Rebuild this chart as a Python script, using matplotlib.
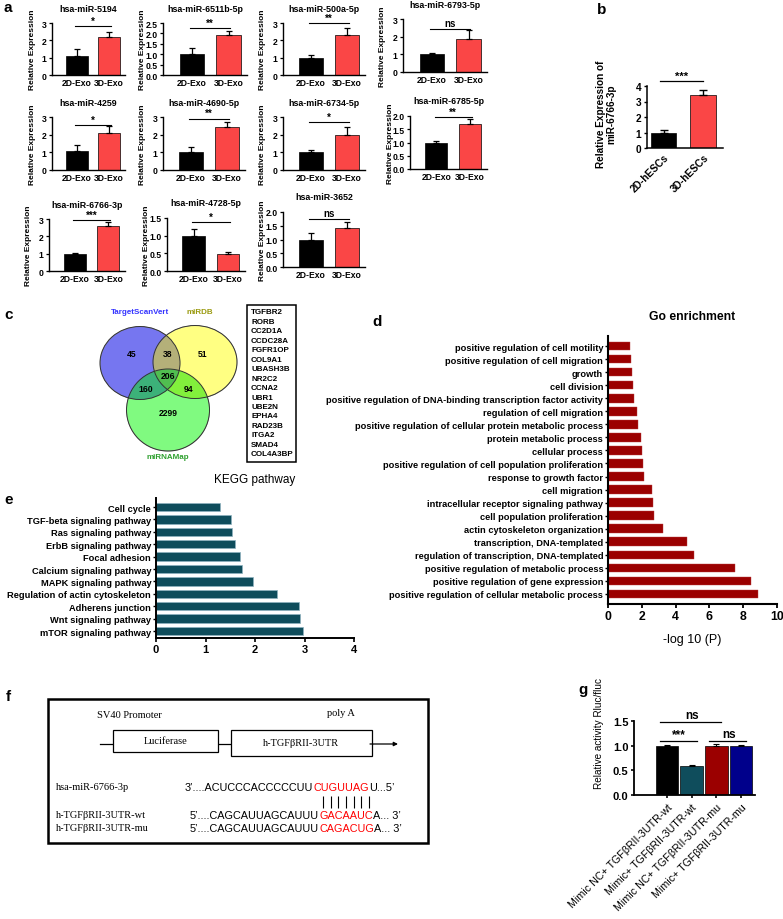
import numpy as np
import matplotlib.pyplot as plt
from matplotlib.patches import Rectangle, Ellipse

plt.rcParams['font.family'] = ['Liberation Sans', 'DejaVu Sans']
plt.rcParams['font.weight'] = 'bold'
plt.rcParams['axes.linewidth'] = 1.0

W, H = 783, 920
RED = '#fa4646'
TEAL = '#0f4d5c'
DARKRED = '#9b0000'

# ---- panel a data: qPCR of exosomal miRNAs
mirna_names = ['hsa-miR-5194', 'hsa-miR-6511b-5p', 'hsa-miR-500a-5p', 'hsa-miR-6793-5p',
               'hsa-miR-4259', 'hsa-miR-4690-5p', 'hsa-miR-6734-5p', 'hsa-miR-6785-5p',
               'hsa-miR-6766-3p', 'hsa-miR-4728-5p', 'hsa-miR-3652']
exo_groups = ['2D-Exo', '3D-Exo']
exo_mean_2d = [1.10, 1.00, 1.00, 1.00, 1.10, 1.00, 1.00, 0.98, 1.00, 1.00, 1.00]
exo_err_2d = [0.42, 0.30, 0.14, 0.10, 0.30, 0.33, 0.15, 0.06, 0.05, 0.20, 0.22]
exo_mean_3d = [2.20, 1.90, 2.28, 1.85, 2.08, 2.45, 2.00, 1.70, 2.60, 0.47, 1.42]
exo_err_3d = [0.28, 0.20, 0.45, 0.55, 0.40, 0.25, 0.45, 0.20, 0.22, 0.08, 0.22]
exo_sig = ['*', '**', '**', 'ns', '*', '**', '*', '**', '***', '*', 'ns']
exo_sig_y = [2.83, 2.25, 3.0, 2.45, 2.55, 2.9, 2.72, 1.95, 2.92, 1.38, 1.75]
exo_ymax = [3, 2.5, 3, 3, 3, 3, 3, 2.0, 3, 1.5, 2.0]
exo_ystep = [1, 0.5, 1, 1, 1, 1, 1, 0.5, 1, 0.5, 0.5]

# ---- panel b data
hesc_groups = ['2D-hESCs', '3D-hESCs']
hesc_mean = [1.0, 3.42]
hesc_err = [0.15, 0.32]

# ---- panel c data (Venn)
venn_sets = ['TargetScanVert', 'miRDB', 'miRNAMap']
venn_counts = {'100': 45, '110': 38, '010': 51, '111': 206, '101': 160, '011': 94, '001': 2299}
target_genes = ['TGFBR2', 'RORB', 'CC2D1A', 'CCDC28A', 'FGFR1OP', 'COL9A1', 'UBASH3B', 'NR2C2',
                'CCNA2', 'UBR1', 'UBE2N', 'EPHA4', 'RAD23B', 'ITGA2', 'SMAD4', 'COL4A3BP']

# ---- panel d data (GO)
go_terms = ['positive regulation of cell motility',
            'positive regulation of cell migration',
            'growth',
            'cell division',
            'positive regulation of DNA-binding transcription factor activity',
            'regulation of cell migration',
            'positive regulation of cellular protein metabolic process',
            'protein metabolic process',
            'cellular process',
            'positive regulation of cell population proliferation',
            'response to growth factor',
            'cell migration',
            'intracellular receptor signaling pathway',
            'cell population proliferation',
            'actin cytoskeleton organization',
            'transcription, DNA-templated',
            'regulation of transcription, DNA-templated',
            'positive regulation of metabolic process',
            'positive regulation of gene expression',
            'positive regulation of cellular metabolic process']
go_values = [1.29, 1.39, 1.43, 1.49, 1.54, 1.72, 1.80, 1.96, 2.04, 2.06,
             2.14, 2.59, 2.65, 2.73, 3.23, 4.67, 5.11, 7.49, 8.46, 8.85]

# ---- panel e data (KEGG)
kegg_terms = ['Cell cycle', 'TGF-beta signaling pathway', 'Ras signaling pathway',
              'ErbB signaling pathway', 'Focal adhesion', 'Calcium signaling pathway',
              'MAPK signaling pathway', 'Regulation of actin cytoskeleton',
              'Adherens junction', 'Wnt signaling pathway', 'mTOR signaling pathway']
kegg_values = [1.30, 1.51, 1.54, 1.59, 1.69, 1.73, 1.96, 2.45, 2.88, 2.90, 2.97]

# ---- panel g data (luciferase)
luc_groups = ['Mimic NC+ TGF\u03b2RII-3UTR-wt', 'Mimic+ TGF\u03b2RII-3UTR-wt',
              'Mimic NC+ TGF\u03b2RII-3UTR-mu', 'Mimic+ TGF\u03b2RII-3UTR-mu']
luc_mean = [1.0, 0.58, 1.0, 1.0]
luc_err = [0.01, 0.02, 0.03, 0.015]
luc_colors = ['black', TEAL, DARKRED, '#00008b']

fig = plt.figure(figsize=(W / 100, H / 100), dpi=100)

# overlay axes in pixel coordinates for texts, venn and schematic
ov = fig.add_axes([0, 0, 1, 1])
ov.set_xlim(0, W)
ov.set_ylim(H, 0)
ov.axis('off')


def add_ax(l, r, t, b):
    ax = fig.add_axes([l / W, 1 - b / H, (r - l) / W, (b - t) / H])
    ax.set_facecolor('none')
    return ax


def style_ax(ax, lw=1.0):
    for s in ['top', 'right']:
        ax.spines[s].set_visible(False)
    for s in ['left', 'bottom']:
        ax.spines[s].set_linewidth(lw)
    ax.tick_params(width=lw * 0.9, length=2.5, pad=1.5)


# panel letters
for letter, (x, y) in zip('abcdefg', [(4, 8), (597, 10), (4, 315), (372, 322),
                                      (4, 500), (6, 697), (578, 690)]):
    ov.text(x, y, letter, fontsize=11, fontweight='bold', va='center', ha='left')

# ---------------- panel a
exo_rects = [(52, 125, 24, 76), (163, 247, 24, 76), (283, 365, 24, 76), (403, 487, 20, 73),
             (52, 125, 118, 171), (163, 245, 118, 171), (283, 365, 118, 171), (410, 487, 117, 170),
             (49, 125, 220, 272), (167, 245, 219, 272), (283, 365, 213, 268)]
for i, name in enumerate(mirna_names):
    l, r, t, b = exo_rects[i]
    ax = add_ax(l, r, t, b)
    style_ax(ax, 1.0)
    means = [exo_mean_2d[i], exo_mean_3d[i]]
    errs = [exo_err_2d[i], exo_err_3d[i]]
    ax.bar([0, 1], means, width=0.66, color=['black', RED], edgecolor='black', linewidth=0.5)
    ax.errorbar([0, 1], means, yerr=[[0, 0], errs], fmt='none', ecolor='black',
                elinewidth=0.9, capsize=2.2, capthick=0.9)
    ax.set_xlim(-0.78, 1.5)
    ax.set_ylim(0, exo_ymax[i])
    ticks = np.arange(0, exo_ymax[i] + 1e-6, exo_ystep[i])
    ax.set_yticks(ticks)
    if exo_ystep[i] < 1:
        ax.set_yticklabels(['%.1f' % v for v in ticks])
    ax.set_xticks([0, 1])
    ax.set_xticklabels(exo_groups)
    ax.tick_params(axis='both', labelsize=6.2)
    ax.tick_params(axis='x', length=0, pad=2)
    ax.plot([-0.05, 1.05], [exo_sig_y[i]] * 2, color='black', lw=0.8, clip_on=False)
    ax.text(0.5, exo_sig_y[i] + exo_ymax[i] * 0.01, exo_sig[i], ha='center', va='bottom',
            fontsize=7, fontweight='bold')
    ov.text((l + r) / 2, t - 15, name, ha='center', va='center', fontsize=6.4)
    ov.text(l - 20, (t + b) / 2, 'Relative Expression', rotation=90, ha='center',
            va='center', fontsize=6.0)

# ---------------- panel b
axb = add_ax(647, 723, 87, 149)
style_ax(axb, 1.1)
axb.bar([0, 1], hesc_mean, width=0.65, color=['black', RED], edgecolor='black', linewidth=0.5)
axb.errorbar([0, 1], hesc_mean, yerr=[[0, 0], hesc_err], fmt='none', ecolor='black',
             elinewidth=1.0, capsize=3, capthick=1.0)
axb.set_xlim(-0.42, 1.5)
axb.set_ylim(0, 4)
axb.set_yticks([0, 1, 2, 3, 4])
axb.set_xticks([0, 1])
axb.set_xticklabels(hesc_groups, rotation=45, ha='right', va='top', rotation_mode='anchor')
axb.tick_params(axis='both', labelsize=7.3)
axb.tick_params(axis='x', length=0, pad=3)
axb.plot([-0.1, 1.0], [4.3, 4.3], color='black', lw=0.9, clip_on=False)
axb.text(0.45, 4.33, '***', ha='center', va='bottom', fontsize=8)
ov.text(606, 114, 'Relative Expression of\nmiR-6766-3p', rotation=90, ha='center',
        va='center', fontsize=7.2, linespacing=1.1)

# ---------------- panel c (Venn)
ells = [((140, 364), 80, 73), ((195, 363), 84, 73), ((168, 411), 83, 82)]
xs = np.arange(90, 250, 0.25)
ys = np.arange(320, 460, 0.25)
gx, gy = np.meshgrid(xs, ys)
inside = []
for (cx, cy), w, h in ells:
    inside.append(((gx - cx) / (w / 2)) ** 2 + ((gy - cy) / (h / 2)) ** 2 <= 1)
region_colors = {'100': (118, 118, 240), '010': (255, 255, 130), '001': (128, 250, 128),
                 '110': (180, 176, 122), '101': (60, 178, 122), '011': (130, 240, 60),
                 '111': (80, 190, 80)}
img = np.zeros(gx.shape + (4,))
for key, col in region_colors.items():
    m = np.ones(gx.shape, dtype=bool)
    for k, flag in enumerate(key):
        m &= inside[k] if flag == '1' else ~inside[k]
    img[m] = [c / 255 for c in col] + [1.0]
ov.imshow(img, extent=(xs[0], xs[-1], ys[-1], ys[0]), aspect='auto', interpolation='bilinear')
for (cx, cy), w, h in ells:
    ov.add_patch(Ellipse((cx, cy), w, h, fill=False, edgecolor='#333333', lw=0.7))
count_pos = {'100': (132, 355), '110': (168, 355), '010': (203, 355), '111': (168, 377),
             '101': (146, 390), '011': (189, 390), '001': (168, 414)}
for key, n in venn_counts.items():
    ov.text(*count_pos[key], str(n), ha='center', va='center', fontsize=6.2)
ov.text(140, 313, venn_sets[0], color='#3535ff', ha='center', va='center', fontsize=5.8)
ov.text(200, 313, venn_sets[1], color='#9a9a10', ha='center', va='center', fontsize=5.8)
ov.text(168, 458, venn_sets[2], color='#2ea02e', ha='center', va='center', fontsize=5.8)
ov.add_patch(Rectangle((247, 306), 49, 157, fill=False, edgecolor='black', lw=1.1))
for k, g in enumerate(target_genes):
    ov.text(251, 313 + k * 9.45, g, ha='left', va='center', fontsize=5.8)
ov.set_xlim(0, W)
ov.set_ylim(H, 0)

# ---------------- panel d (GO)
axd = add_ax(608, 777, 337, 605)
style_ax(axd, 1.5)
yd = np.arange(len(go_terms))
axd.barh(yd, go_values, height=0.66, color=DARKRED, edgecolor='#b84040', linewidth=0.3)
axd.set_ylim(len(go_terms) - 1 + 10 / 13.05, -10 / 13.05)
axd.set_xlim(0, 10)
axd.set_xticks([0, 2, 4, 6, 8, 10])
axd.set_yticks(yd)
axd.set_yticklabels(go_terms)
axd.tick_params(axis='y', labelsize=6.7, length=2, width=1.0)
axd.tick_params(axis='x', labelsize=8.8, length=3, width=1.3)
axd.set_xlabel('-log 10 (P)', fontsize=9, labelpad=8)
ov.text(692, 317, 'Go enrichment', ha='center', va='center', fontsize=8.7)

# ---------------- panel e (KEGG)
axe = add_ax(156, 354, 499, 639)
style_ax(axe, 1.4)
ye = np.arange(len(kegg_terms))
axe.barh(ye, kegg_values, height=0.68, color=TEAL, edgecolor='#8fb3c0', linewidth=0.5)
axe.set_ylim(len(kegg_terms) - 1 + 7 / 12.4, -9 / 12.4)
axe.set_xlim(0, 4)
axe.set_xticks([0, 1, 2, 3, 4])
axe.set_yticks(ye)
axe.set_yticklabels(kegg_terms)
axe.tick_params(axis='y', labelsize=6.7, length=2, width=1.0)
axe.tick_params(axis='x', labelsize=8, length=3, width=1.2)
ov.text(255, 480, 'KEGG pathway', ha='center', va='center', fontsize=8.5, fontweight='normal')

# ---------------- panel f (reporter construct)
serif = ['Liberation Serif', 'DejaVu Serif']
ov.add_patch(Rectangle((48, 700), 380, 144, fill=False, edgecolor='black', lw=1.8))
ov.plot([100, 372], [745, 745], color='black', lw=0.9, zorder=1)
ov.annotate('', xy=(398, 745), xytext=(370, 745),
            arrowprops=dict(arrowstyle='-|>', color='black', lw=0.9, mutation_scale=6,
                            shrinkA=0, shrinkB=0))
ov.add_patch(Rectangle((113, 731), 105, 22, facecolor='white', edgecolor='black', lw=0.9, zorder=2))
ov.add_patch(Rectangle((231, 731), 141, 26, facecolor='white', edgecolor='black', lw=0.9, zorder=2))
ov.text(165.5, 742, 'Luciferase', family=serif, fontweight='normal', fontsize=7.5,
        ha='center', va='center', zorder=3)
ov.text(301.5, 744, 'h-TGF\u03b2RII-3UTR', family=serif, fontweight='normal', fontsize=7.5,
        ha='center', va='center', zorder=3)
ov.text(97, 716, 'SV40 Promoter', family=serif, fontweight='normal', fontsize=7.5,
        ha='left', va='center')
ov.text(327, 714, 'poly A', family=serif, fontweight='normal', fontsize=7.5,
        ha='left', va='center')

renderer = fig.canvas.get_renderer()


def seq_line(x, y, parts):
    spans = []
    for s, c in parts:
        t = ov.text(x, y, s, color=c, fontsize=7.8, fontweight='normal', ha='left', va='center')
        w = t.get_window_extent(renderer).width
        spans.append((x, x + w))
        x += w
    return spans


seq_rows = [('hsa-miR-6766-3p', 788, 185,
             [('3\u2019....ACUCCCACCCCCUU', 'black'), ('CUGUUAG', 'red'), ('U...5\u2019', 'black')]),
            ('h-TGF\u03b2RII-3UTR-wt', 816, 190,
             [('5\u2019....CAGCAUUAGCAUUU', 'black'), ('GACAAUC', 'red'), ('A... 3\u2019', 'black')]),
            ('h-TGF\u03b2RII-3UTR-mu', 829, 190,
             [('5\u2019....CAGCAUUAGCAUUU', 'black'), ('CAGACUG', 'red'), ('A... 3\u2019', 'black')])]
red_spans = []
for label, y, x0, parts in seq_rows:
    ov.text(56, y, label, family=serif, fontweight='normal', fontsize=7.5, ha='left', va='center')
    red_spans.append(seq_line(x0, y, parts)[1])
rx0, rx1 = red_spans[1]
step = (rx1 - rx0) / 7
ov.vlines(rx0 + step * (np.arange(7) + 0.5), 797, 809, color='black', lw=0.8)

# ---------------- panel g (luciferase)
axg = add_ax(634, 755, 722, 796)
style_ax(axg, 1.3)
xg = np.arange(len(luc_groups))
axg.bar(xg, luc_mean, width=0.92, color=luc_colors, edgecolor='black', linewidth=0.5)
axg.errorbar(xg, luc_mean, yerr=[[0] * 4, luc_err], fmt='none', ecolor='black',
             elinewidth=0.8, capsize=2.5, capthick=0.8)
axg.set_xlim(-1.34, 3.57)
axg.set_ylim(0, 1.5)
axg.set_yticks([0, 0.5, 1.0, 1.5])
axg.set_yticklabels(['0.0', '0.5', '1.0', '1.5'])
axg.set_xticks(xg)
axg.set_xticklabels(luc_groups, rotation=45, ha='right', va='top', rotation_mode='anchor',
                    fontweight='normal')
axg.tick_params(axis='y', labelsize=8)
axg.tick_params(axis='x', labelsize=7.7, length=2.5, pad=2)
axg.set_ylabel('Relative activity Rluc/fluc', fontsize=7.2, fontweight='normal')
axg.yaxis.set_label_coords(-0.25, 0.85)
for x1, x2, yb, s in [(0, 1, 1.10, '***'), (0, 2, 1.48, 'ns'), (2, 3, 1.10, 'ns')]:
    axg.plot([x1 - 0.3, x2 + 0.2], [yb, yb], color='black', lw=0.9, clip_on=False)
    axg.text((x1 + x2) / 2, yb + 0.02, s, ha='center', va='bottom', fontsize=8.5)

fig.savefig('out.png', dpi=100)
